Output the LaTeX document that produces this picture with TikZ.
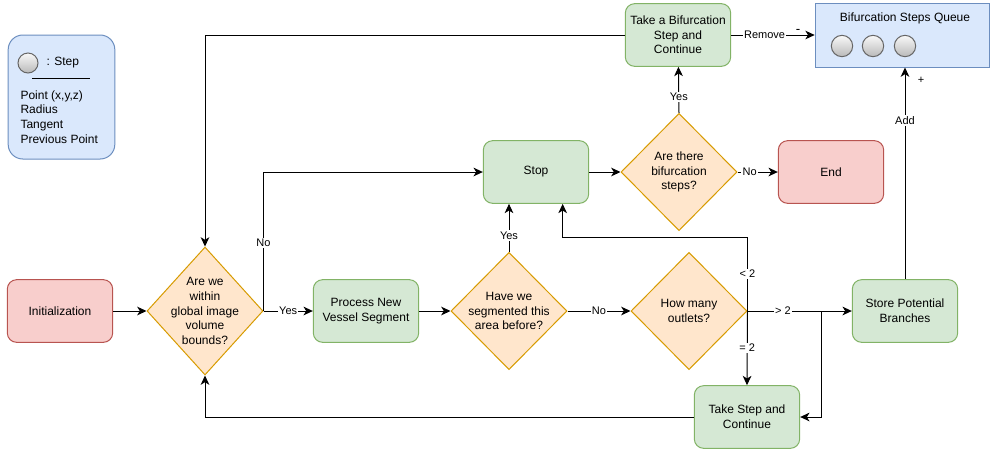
\documentclass[tikz,border=0pt]{standalone}
\usepackage{fontspec}
\setmainfont{Liberation Sans}
\usepackage{tikz}
\usetikzlibrary{arrows.meta}
\usetikzlibrary{shapes.geometric}

\definecolor{greenfill}{HTML}{D5E8D4}
\definecolor{greenline}{HTML}{82B366}
\definecolor{redfill}{HTML}{F8CECC}
\definecolor{redline}{HTML}{B85450}
\definecolor{orangefill}{HTML}{FFE6CC}
\definecolor{orangeline}{HTML}{D79B00}
\definecolor{bluefill}{HTML}{DAE8FC}
\definecolor{blueline}{HTML}{6C8EBF}
\definecolor{ballline}{HTML}{666666}

\begin{document}
\begin{tikzpicture}[x=0.75pt, y=-0.75pt, >={Stealth[length=7pt, width=6.5pt, inset=2pt]},
    line width=0.75pt, font=\fontsize{9}{11}\selectfont,
    process/.style={draw=greenline, fill=greenfill, rounded corners=7pt, align=center,
        minimum width=79pt, minimum height=47pt},
    terminal/.style={draw=redline, fill=redfill, rounded corners=7pt, align=center,
        minimum width=79pt, minimum height=47pt},
    decision/.style={diamond, draw=orangeline, fill=orangefill, inner sep=0pt,
        minimum width=87pt, minimum height=88pt},
    ball/.style={circle, draw=ballline, top color=gray!5, bottom color=gray!55,
        inner sep=0pt, minimum size=16pt},
    lbl/.style={fill=white, inner sep=1pt, font=\fontsize{8.25}{10}\selectfont}]
        \useasboundingbox (0,0) rectangle (993,451);

        % legend
        \node[draw=blueline, fill=bluefill, rounded corners=11pt,
            minimum width=80pt, minimum height=93pt] at (61.5,97) (legend){};
        \node[ball, minimum size=15pt] at (28,63) (lc){};
        \node[anchor=west, inner sep=0pt] at (46,63) (stepkey){: Step};
        \draw (32,78) -- (90,78);
        \node[anchor=west, align=left, inner sep=0pt] at (20,117) (fields)
            {Point (x,y,z)\\Radius\\Tangent\\Previous Point};

        % main flow
        \node[terminal] at (60,311) (init){Initialization};
        \node[decision, minimum height=96pt,
            label={[align=center]center:Are we\\within\\global image\\volume\\bounds?}]
            at (205,311) (bounds){};
        \node[process] at (366,311) (proc){Process New\\Vessel Segment};
        \node[decision, label={[align=center]center:Have we\\segmented this\\area before?}]
            at (509,311) (seen){};
        \node[decision, label={[align=center]center:How many\\outlets?}]
            at (689,311) (outlets){};
        \node[process] at (905,311) (store){Store Potential\\Branches};
        \node[process] at (747,417) (step){Take Step and\\Continue};
        \node[process] at (536,172) (stop){Stop};
        \node[decision, label={[align=center]center:Are there\\bifurcation\\steps?}]
            at (679,172) (anybif){};
        \node[terminal] at (831,172) (end){End};
        \node[process] at (678,35) (bif){Take a Bifurcation\\Step and\\Continue};

        % queue
        \node[draw=blueline, fill=bluefill, minimum width=131pt, minimum height=48pt]
            at (902.5,35) (queue){};
        \node at (905,18) (qtitle){Bifurcation Steps Queue};
        \node[ball] at (842,46) (q1){};
        \node[ball] at (873,46) (q2){};
        \node[ball] at (905,46) (q3){};
        \coordinate (split) at (821,311);

        \draw[->] (init) -- (bounds);
        \draw[->] (bounds.east) -- node[lbl]{Yes} (proc);
        \draw[->] (bounds.east) |- node[lbl, pos=0.245]{No} (stop.west);
        \draw[->] (proc) -- (seen);
        \draw[->] (seen) -- node[lbl]{No} (outlets);
        \draw[->] (seen.north) -- node[lbl, pos=0.34]{Yes} (seen.north |- stop.south);
        \draw[->] (outlets.east) -- node[lbl]{< 2} ++(0,-74) -| ([xshift=20pt]stop.south);
        \draw[->] (outlets.east) -- node[lbl, pos=0.34]{> 2} (store);
        \draw[->] (outlets.east) -- node[lbl]{= 2} (step.north);
        \draw[->] (split) |- (step.east);
        \draw[->] (step.west) -| (bounds.south);
        \draw[->] (stop) -- (anybif);
        \draw[->] (anybif) -- node[lbl, pos=0.3]{No} (end);
        \draw[->] (anybif.north) -- node[lbl, pos=0.35]{Yes} (bif);
        \draw[->] (bif.west) -| (bounds.north);
        \draw[->] (bif) -- node[lbl, pos=0.4]{Remove}
            node[pos=0.8, above, inner sep=1pt, font=\fontsize{10}{10}\selectfont]{-} (queue);
        \draw[->] (store.north) -- node[lbl, pos=0.75]{Add}
            node[pos=0.94, right, xshift=6pt, font=\fontsize{8.25}{10}\selectfont]{+} (store.north |- queue.south);
\end{tikzpicture}
\end{document}
